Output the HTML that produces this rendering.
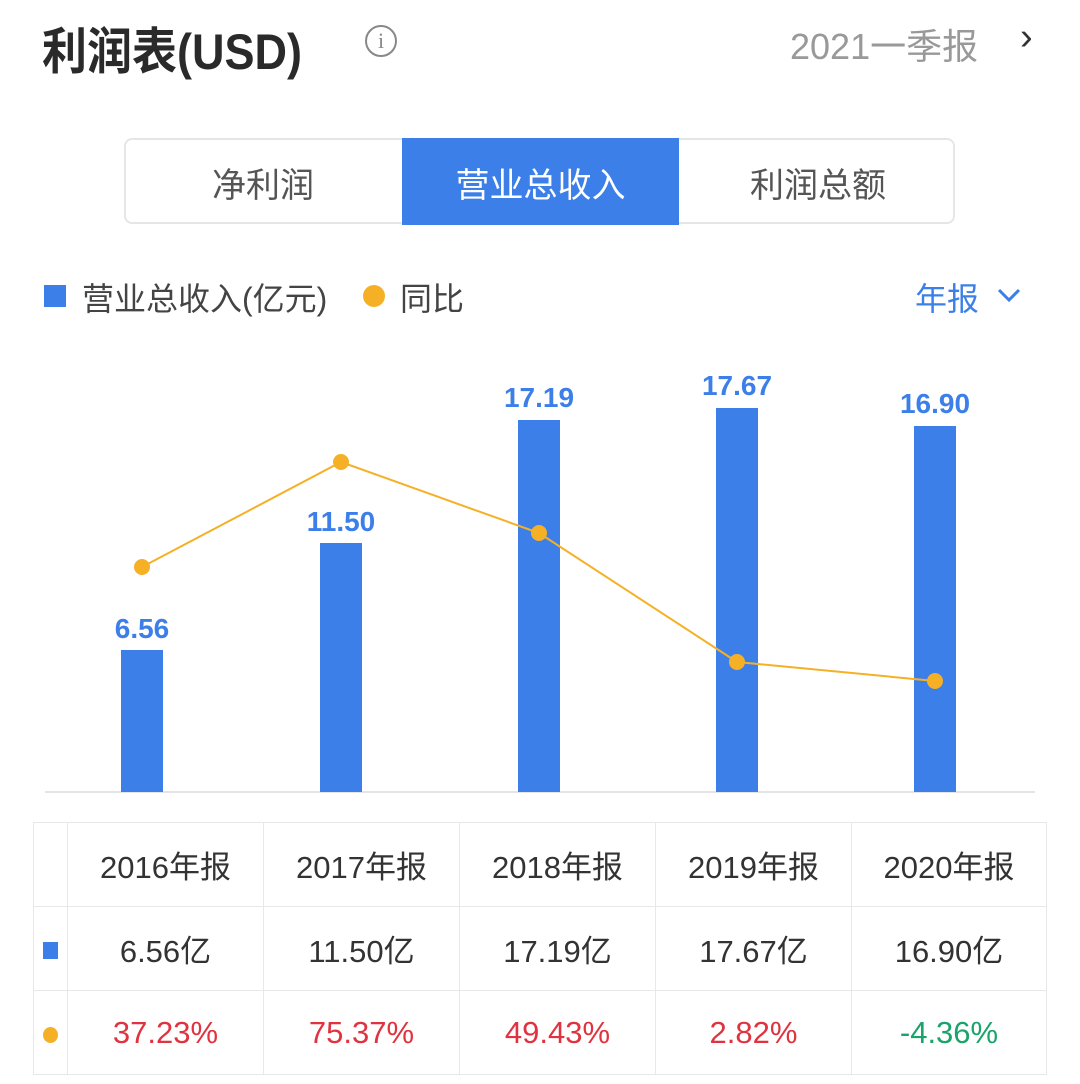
<!DOCTYPE html>
<html><head><meta charset="utf-8"><style>
body{margin:0;width:1080px;height:1084px;background:#fff;overflow:hidden;font-family:"Liberation Sans","Noto Sans CJK SC",sans-serif;position:relative}
.a{position:absolute;white-space:nowrap}
table{position:absolute;left:33px;top:822px;border-collapse:collapse}
td{border:1px solid #e8e8e8;text-align:center;font-size:31px;color:#333;height:83px;padding:0}
</style></head><body>
<div class="a" style="left:42px;top:12px;font-size:50px;font-weight:bold;color:#2a2a2a;transform:scaleX(0.9);transform-origin:left">利润表(USD)</div>
<div class="a" style="left:365px;top:25px;width:28px;height:28px;border:2px solid #888;border-radius:50%;font-size:22px;color:#888;text-align:center;line-height:28px;font-family:'Liberation Serif',serif">i</div>
<div class="a" style="left:790px;top:18px;font-size:36px;color:#999">2021一季报</div>
<div class="a" style="left:1020px;top:16px;font-size:38px;color:#333">›</div>
<div class="a" style="left:124px;top:138px;width:831px;height:86px;border:2px solid #e6e6e6;border-radius:8px;box-sizing:border-box"></div>
<div class="a" style="left:402px;top:138px;width:277px;height:87px;background:#3d7fe9"></div>
<div class="a" style="left:124px;top:158px;width:278px;text-align:center;font-size:34px;color:#555">净利润</div>
<div class="a" style="left:402px;top:158px;width:277px;text-align:center;font-size:34px;color:#fff">营业总收入</div>
<div class="a" style="left:679px;top:158px;width:278px;text-align:center;font-size:34px;color:#555">利润总额</div>
<div class="a" style="left:44px;top:285px;width:22px;height:22px;background:#3d7fe9"></div>
<div class="a" style="left:82px;top:274px;font-size:32px;color:#444">营业总收入(亿元)</div>
<div class="a" style="left:363px;top:285px;width:22px;height:22px;background:#f5b026;border-radius:50%"></div>
<div class="a" style="left:400px;top:274px;font-size:32px;color:#444">同比</div>
<div class="a" style="left:915px;top:274px;font-size:32px;color:#3d7fe9">年报</div>
<svg class="a" style="left:0;top:0" width="1080" height="820">
<line x1="45" y1="792" x2="1035" y2="792" stroke="#e5e5e5" stroke-width="2"/>
<g fill="#3d7fe9"><rect x="121" y="650" width="42" height="142"/><rect x="320" y="543" width="42" height="249"/><rect x="518" y="420" width="42" height="372"/><rect x="716" y="408" width="42" height="384"/><rect x="914" y="426" width="42" height="366"/></g>
<g font-size="28" fill="#3d7fe9" text-anchor="middle" font-weight="bold" font-family="Liberation Sans, sans-serif"><text x="142" y="638">6.56</text><text x="341" y="531">11.50</text><text x="539" y="407">17.19</text><text x="737" y="395">17.67</text><text x="935" y="413">16.90</text></g>
<polyline points="142,567 341,462 539,533 737,662 935,681" fill="none" stroke="#f5b026" stroke-width="2"/>
<g fill="#f5b026"><circle cx="142" cy="567" r="8"/><circle cx="341" cy="462" r="8"/><circle cx="539" cy="533" r="8"/><circle cx="737" cy="662" r="8"/><circle cx="935" cy="681" r="8"/></g>
<polyline points="999,290 1009,300 1019,290" fill="none" stroke="#3d7fe9" stroke-width="3"/>
</svg>
<table>
<tr><td style="width:33px"></td><td style="width:195px">2016年报</td><td style="width:195px">2017年报</td><td style="width:195px">2018年报</td><td style="width:195px">2019年报</td><td style="width:194px">2020年报</td></tr>
<tr><td><span style="display:inline-block;width:15px;height:17px;background:#3d7fe9"></span></td><td>6.56亿</td><td>11.50亿</td><td>17.19亿</td><td>17.67亿</td><td>16.90亿</td></tr>
<tr><td><span style="display:inline-block;width:15px;height:16px;border-radius:50%;background:#f5b026"></span></td><td style="color:#e0333f">37.23%</td><td style="color:#e0333f">75.37%</td><td style="color:#e0333f">49.43%</td><td style="color:#e0333f">2.82%</td><td style="color:#1aa36a">-4.36%</td></tr>
</table>
</body></html>
